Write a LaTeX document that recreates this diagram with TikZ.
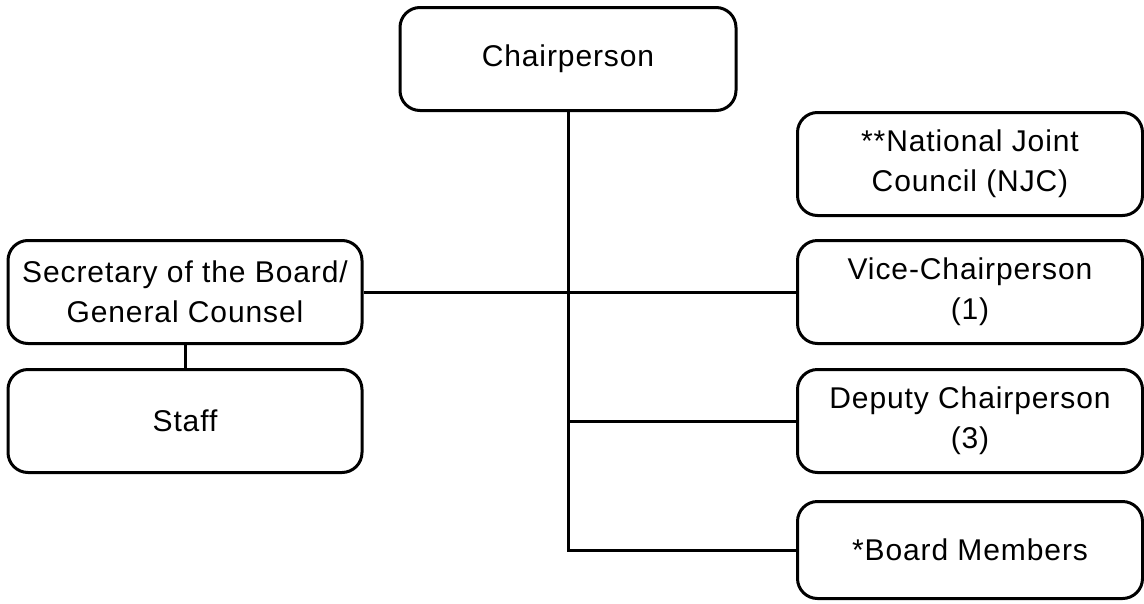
\documentclass[tikz,border=0pt]{standalone}
\usepackage{fontspec}
\setmainfont{Liberation Sans}[LetterSpace=3]
\begin{document}
\begin{tikzpicture}[x=1pt,y=-1pt,line width=3pt]

      \useasboundingbox (0,0) rectangle (1144,603);

      \begin{scope}[every node/.style={draw,rounded corners=20pt,align=center,
          minimum height=103pt,inner sep=0pt,font=\fontsize{30}{40}\selectfont}]
        \node[minimum width=336pt] (chair)     at (568,59)  {Chairperson};
        \node[minimum width=354pt] (secretary) at (185,292) {Secretary of the Board/\\General Counsel};
        \node[minimum width=354pt] (staff)     at (185,421) {Staff};
        \node[minimum width=345pt] (njc)       at (970,164) {**National Joint\\Council (NJC)};
        \node[minimum width=345pt] (vice)      at (970,292) {Vice-Chairperson\\(1)};
        \node[minimum width=345pt] (deputy)    at (970,421) {Deputy Chairperson\\(3)};
        \node[minimum width=345pt,minimum height=97pt] (board) at (970,550) {*Board Members};
      \end{scope}

      \draw (secretary.east) -- (vice.west);
      \draw (secretary) -- (staff);
      \draw (chair.south) -- (chair.south |- board.west) -- (board.west);
      \draw (chair.south |- deputy.west) -- (deputy.west);

    \end{tikzpicture}
\end{document}
